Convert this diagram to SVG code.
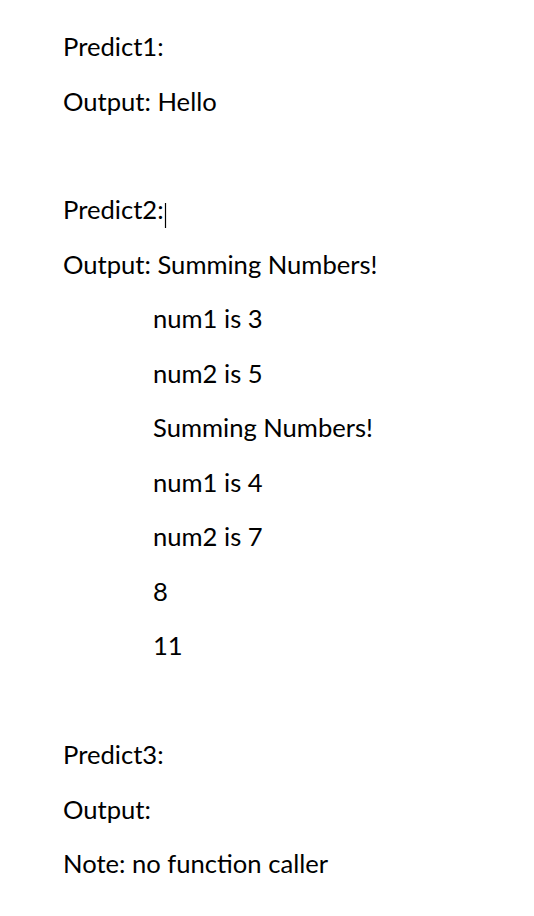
<svg xmlns="http://www.w3.org/2000/svg" width="534" height="916" viewBox="0 0 534 916">
<style>
text{font-family:"Lato","Open Sans","Liberation Sans",sans-serif;font-size:25.6px;fill:#000}
</style>
<rect width="534" height="916" fill="#fff"/>
<g id="predict1">
<text x="63" y="56">Predict1:</text>
<text x="63" y="110.5">Output: Hello</text>
</g>
<g id="predict2">
<text x="63" y="219">Predict2:</text>
<line x1="165.5" y1="203" x2="165.5" y2="228" stroke="#000" stroke-width="1.2"/>
<text x="63" y="273.5">Output: Summing Numbers!</text>
<text x="153" y="328">num1 is 3</text>
<text x="153" y="382.5">num2 is 5</text>
<text x="153" y="437">Summing Numbers!</text>
<text x="153" y="491.5">num1 is 4</text>
<text x="153" y="546">num2 is 7</text>
<text x="153" y="600.5">8</text>
<text x="153" y="655">11</text>
</g>
<g id="predict3">
<text x="63" y="764">Predict3:</text>
<text x="63" y="818.5">Output:</text>
<text x="63" y="873">Note: no function caller</text>
</g>
</svg>
